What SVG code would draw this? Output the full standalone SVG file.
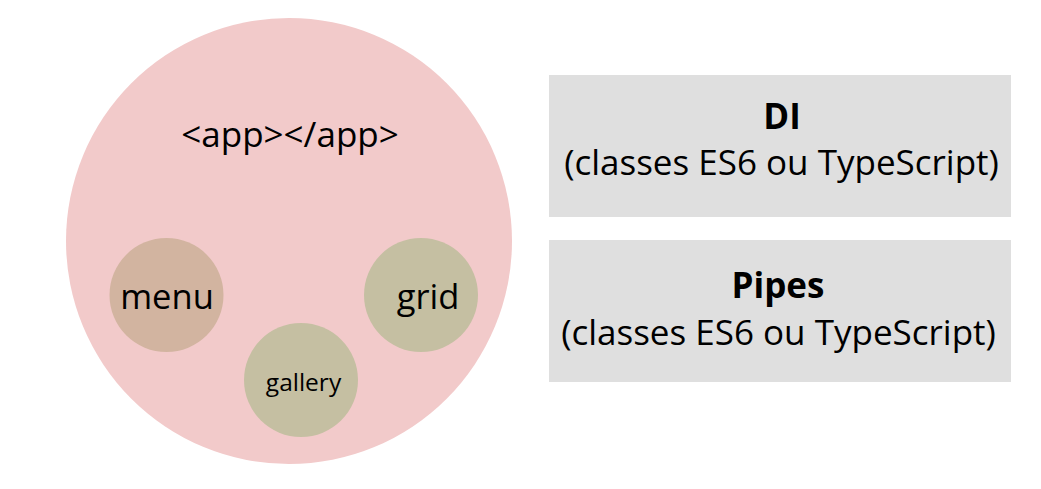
<svg xmlns="http://www.w3.org/2000/svg" width="1041" height="489" viewBox="0 0 1041 489">
<style>
text{font-family:"Open Sans","Noto Sans","DejaVu Sans",sans-serif;fill:#000;text-anchor:middle}
.big{font-size:35px}
.bold{font-weight:bold}
.box{fill:#DFDFDF}
.sub{fill:#C5BFA2}
</style>
<rect width="1041" height="489" fill="#fff"/>
<g id="app">
<circle cx="289" cy="241" r="223" fill="#F2CACA"/>
<text class="big" x="290" y="147">&lt;app&gt;&lt;/app&gt;</text>
</g>
<g id="menu">
<circle cx="166.5" cy="295" r="57" fill="#D2B4A0"/>
<text x="167" y="309" style="font-size:34.5px">menu</text>
</g>
<g id="grid">
<circle class="sub" cx="421" cy="295" r="57"/>
<text x="428" y="309" style="font-size:34.5px">grid</text>
</g>
<g id="gallery">
<circle class="sub" cx="301" cy="380" r="57"/>
<text x="303.5" y="391" style="font-size:24.5px">gallery</text>
</g>
<g id="di">
<rect class="box" x="549" y="75" width="462" height="142"/>
<text class="big bold" x="782" y="129">DI</text>
<text class="big" x="781.5" y="175">(classes ES6 ou TypeScript)</text>
</g>
<g id="pipes">
<rect class="box" x="549" y="240" width="462" height="142"/>
<text class="big bold" x="778" y="298">Pipes</text>
<text class="big" x="778.5" y="345">(classes ES6 ou TypeScript)</text>
</g>
<g id="connectors"></g>
</svg>
